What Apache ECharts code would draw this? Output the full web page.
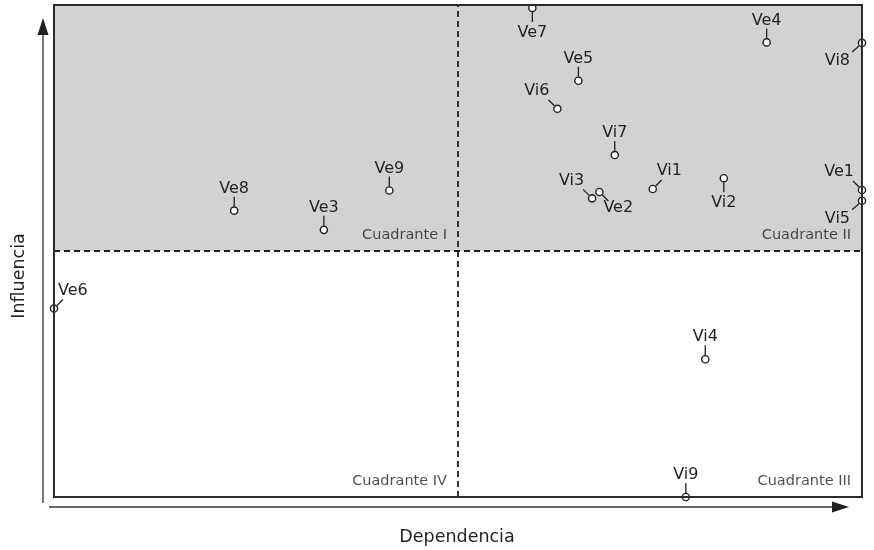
<!DOCTYPE html>
<html>
<head>
<meta charset="utf-8">
<script src="https://cdn.jsdelivr.net/npm/echarts@6/dist/echarts.min.js"></script>
<style>
  html, body { margin: 0; padding: 0; background: #fff; }
  #chart { width: 874px; height: 550px; }
</style>
</head>
<body>
<div id="chart"></div>
<script>
// variables and their position on the dependence / influence plane (0-100)
const names = ["Ve7", "Ve4", "Vi8", "Ve5", "Vi6", "Vi7", "Vi1", "Vi2", "Vi3", "Ve2", "Ve1", "Vi5", "Ve8", "Ve3", "Ve9", "Ve6", "Vi4", "Vi9"];
const dependencia = [59.2, 88.2, 100, 64.9, 62.3, 69.4, 74.1, 82.9, 66.6, 67.5, 100, 100, 22.3, 33.4, 41.5, 0, 80.6, 78.2];
const influencia = [99.4, 92.4, 92.3, 84.6, 78.9, 69.5, 62.6, 64.8, 60.7, 62.0, 62.4, 60.2, 58.2, 54.3, 62.3, 38.3, 28.0, 0];
// which side the label sits on
const labelSide = ["s", "n", "sw", "n", "nw", "n", "ne", "s", "nw", "se", "nw", "sw", "n", "n", "n", "ne", "n", "n"];

const quadrants = ["Cuadrante I", "Cuadrante II", "Cuadrante III", "Cuadrante IV"];
const quadrantCorner = [[50, 50], [100, 50], [100, 0], [50, 0]];

const FONT = "DejaVu Sans";
const INK = "#231f20";

const points = names.map((n, i) => [dependencia[i], influencia[i], n, labelSide[i]]);

// leader line and text placement per side
const layout = {
  n:  { line: [0, -4, 0, -14], text: [0, -22], align: "center" },
  s:  { line: [0, 4, 0, 14], text: [0, 25], align: "center" },
  nw: { line: [-3, -3, -9, -9], text: [-8, -18], align: "right" },
  ne: { line: [3, -3, 9, -9], text: [4, -18], align: "left" },
  sw: { line: [-3, 3, -10, 9], text: [-12, 18], align: "right" },
  se: { line: [3, 3, 9, 9], text: [4, 16], align: "left" }
};

function renderPoint(params, api) {
  const c = api.coord([api.value(0), api.value(1)]);
  const side = points[params.dataIndex][3];
  const lay = layout[side];
  return {
    type: "group",
    children: [
      {
        type: "line",
        shape: { x1: c[0] + lay.line[0], y1: c[1] + lay.line[1], x2: c[0] + lay.line[2], y2: c[1] + lay.line[3] },
        style: { stroke: INK, lineWidth: 1.3 }
      },
      {
        type: "circle",
        shape: { cx: c[0], cy: c[1], r: 3.6 },
        style: { fill: "#fff", stroke: INK, lineWidth: 1.4 },
        z2: 5
      },
      {
        type: "text",
        x: c[0] + lay.text[0],
        y: c[1] + lay.text[1],
        style: {
          text: points[params.dataIndex][2],
          fill: INK,
          font: "16px " + FONT,
          align: lay.align,
          verticalAlign: "middle"
        }
      }
    ]
  };
}

const chart = echarts.init(document.getElementById("chart"));

chart.setOption({
  animation: false,
  grid: {
    left: 54, right: 12, top: 5, bottom: 53,
    show: true, borderColor: "#2b2b2b", borderWidth: 2,
    backgroundColor: "transparent", z: 10
  },
  xAxis: {
    type: "value", min: 0, max: 100,
    axisLine: { show: false }, axisTick: { show: false },
    axisLabel: { show: false }, splitLine: { show: false }
  },
  yAxis: {
    type: "value", min: 0, max: 100,
    axisLine: { show: false }, axisTick: { show: false },
    axisLabel: { show: false }, splitLine: { show: false }
  },
  graphic: [
    // influence arrow
    { type: "line", shape: { x1: 43, y1: 503, x2: 43, y2: 30 }, style: { stroke: "#555", lineWidth: 1.6 } },
    { type: "polygon", shape: { points: [[43, 18], [37.5, 35], [48.5, 35]] }, style: { fill: INK } },
    // dependence arrow
    { type: "line", shape: { x1: 49, y1: 507, x2: 836, y2: 507 }, style: { stroke: "#333", lineWidth: 1.6 } },
    { type: "polygon", shape: { points: [[849, 507], [832, 501.5], [832, 512.5]] }, style: { fill: INK } },
    {
      type: "text", x: 457, y: 537,
      style: { text: "Dependencia", font: "17.5px " + FONT, fill: INK, align: "center", verticalAlign: "middle" }
    },
    {
      type: "text", x: 19, y: 276, rotation: Math.PI / 2,
      style: { text: "Influencia", font: "17.5px " + FONT, fill: INK, align: "center", verticalAlign: "middle" }
    }
  ],
  series: [
    {
      type: "scatter",
      symbolSize: 0,
      silent: true,
      data: quadrantCorner.map((c, i) => ({ value: c, name: quadrants[i] })),
      label: {
        show: true,
        formatter: "{b}",
        position: "insideBottomRight",
        offset: [-6, -3],
        align: "right",
        verticalAlign: "bottom",
        color: INK,
        fontFamily: FONT,
        fontSize: 14.5
      },
      markArea: {
        silent: true,
        itemStyle: { color: "#d1d2d4" },
        data: [[{ coord: [0, 50] }, { coord: [100, 100] }]]
      },
      markLine: {
        silent: true,
        symbol: "none",
        label: { show: false },
        lineStyle: { color: INK, type: [6, 4], width: 1.8 },
        data: [{ xAxis: 50 }, { yAxis: 50 }]
      }
    },
    {
      type: "custom",
      renderItem: renderPoint,
      data: points,
      z: 5
    }
  ]
});
</script>
</body>
</html>
